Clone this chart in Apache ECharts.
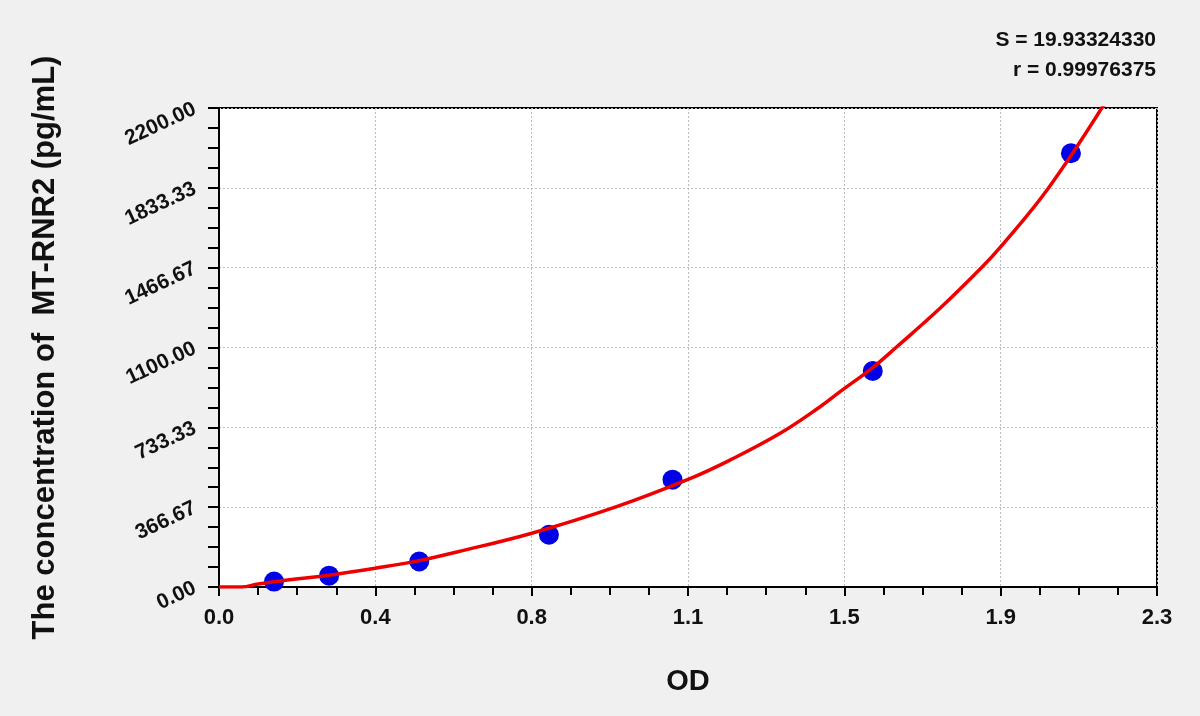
<!DOCTYPE html>
<html>
<head>
<meta charset="utf-8">
<script src="https://cdn.jsdelivr.net/npm/echarts@6/dist/echarts.min.js"></script>
<style>
html,body{margin:0;padding:0;background:#f0f0f0;}
#c{width:1200px;height:716px;}
</style>
</head>
<body>
<div id="c"></div>
<script>
// Standard points (OD, concentration pg/mL)
const pointOD = [0.135, 0.270, 0.491, 0.809, 1.112, 1.603, 2.089];
const pointConc = [25, 52, 117, 240, 493, 992, 1992];
// Fitted curve
const curveOD = [0, 0.055, 0.096, 0.135, 0.2, 0.27, 0.383, 0.491, 0.586, 0.767, 0.975, 1.15, 1.253, 1.376, 1.474, 1.523, 1.603, 1.66, 1.768, 1.87, 1.917, 2.034, 2.171];
const curveConc = [0, 0, 14, 24, 39, 54, 86, 121, 162, 247, 369, 494, 583, 706, 828, 897, 1008, 1100, 1280, 1467, 1563, 1833, 2219];
const xTicks = ['0.0', '0.4', '0.8', '1.1', '1.5', '1.9', '2.3'];
const yTicks = ['0.00', '366.67', '733.33', '1100.00', '1466.67', '1833.33', '2200.00'];
const statS = 'S = 19.93324330';
const statR = 'r = 0.99976375';

const chart = echarts.init(document.getElementById('c'));
const font = 'Liberation Sans, Arial, sans-serif';
const xMax = 2.3, yMax = 2200;
const xStep = xMax / 6, yStep = yMax / 6;

chart.setOption({
  backgroundColor: '#f0f0f0',
  animation: false,
  grid: {
    left: 219, right: 43, top: 108, bottom: 129,
    show: true, backgroundColor: '#ffffff', borderColor: '#000000', borderWidth: 2
  },
  graphic: [
    { type: 'text', x: 1156, y: 40, style: { text: statS, font: 'bold 21px ' + font, fill: '#111', align: 'right', verticalAlign: 'middle' } },
    { type: 'text', x: 1156, y: 70, style: { text: statR, font: 'bold 21px ' + font, fill: '#111', align: 'right', verticalAlign: 'middle' } }
  ],
  xAxis: {
    type: 'value', min: 0, max: xMax, interval: xStep,
    name: 'OD', nameLocation: 'middle', nameGap: 80,
    nameTextStyle: { fontFamily: font, fontWeight: 'bold', fontSize: 29, color: '#111' },
    axisLine: { show: true, lineStyle: { color: '#000', width: 2 } },
    axisTick: { show: true, length: 9, lineStyle: { color: '#000', width: 2 } },
    minorTick: { show: true, splitNumber: 4, length: 8, lineStyle: { color: '#000', width: 2 } },
    axisLabel: {
      fontFamily: font, fontWeight: 'bold', fontSize: 22, color: '#111', margin: 20,
      formatter: (v) => xTicks[Math.round(v / xStep)] ?? ''
    },
    splitLine: { show: true, lineStyle: { color: '#bbbbbb', type: [2, 2], width: 1 } },
    minorSplitLine: { show: false }
  },
  yAxis: {
    type: 'value', min: 0, max: yMax, interval: yStep,
    name: 'The concentration of  MT-RNR2 (pg/mL)', nameLocation: 'middle', nameGap: 158,
    nameTextStyle: { fontFamily: font, fontWeight: 'bold', fontSize: 31, color: '#111' },
    axisLine: { show: true, lineStyle: { color: '#000', width: 2 } },
    axisTick: { show: true, length: 11, lineStyle: { color: '#000', width: 2 } },
    minorTick: { show: true, splitNumber: 4, length: 11, lineStyle: { color: '#000', width: 2 } },
    axisLabel: {
      fontFamily: font, fontWeight: 'bold', fontSize: 21, color: '#111', margin: 24, rotate: 25,
      formatter: (v) => yTicks[Math.round(v / yStep)] ?? ''
    },
    splitLine: { show: true, lineStyle: { color: '#bbbbbb', type: [2, 2], width: 1 } }
  },
  series: [
    {
      type: 'scatter', z: 2,
      data: pointOD.map((x, i) => [x, pointConc[i]]),
      symbol: 'circle', symbolSize: 20,
      itemStyle: { color: '#0000e6', opacity: 1 }
    },
    {
      type: 'line', z: 3,
      data: curveOD.map((x, i) => [x, curveConc[i]]),
      smooth: 0.4, showSymbol: false, symbol: 'none', clip: true,
      lineStyle: { color: '#ee0000', width: 3.5 }
    }
  ]
});
</script>
</body>
</html>
